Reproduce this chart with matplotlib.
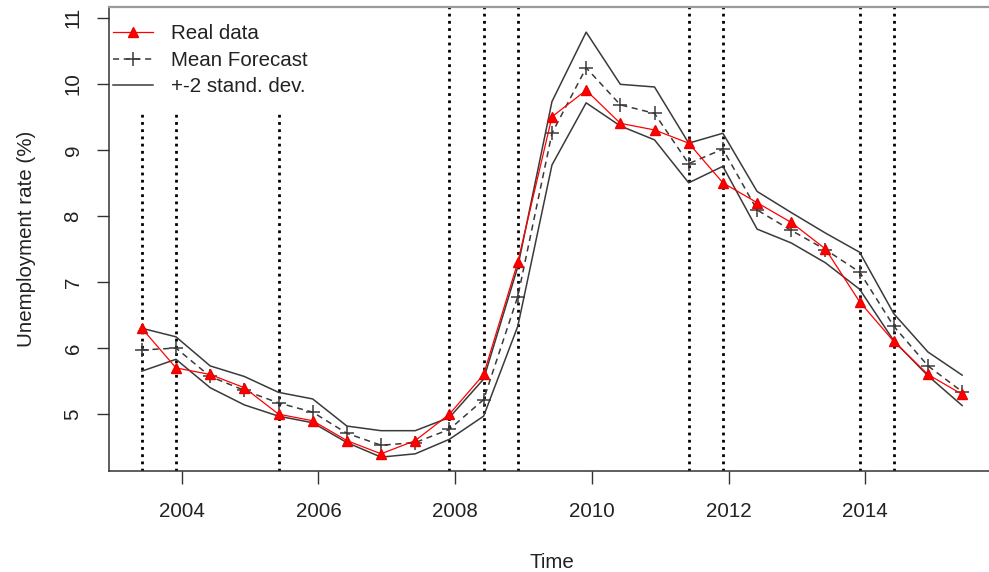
import matplotlib
matplotlib.use("Agg")
import matplotlib.pyplot as plt

# Semiannual observations (June / December)
periods = ["2003-06", "2003-12", "2004-06", "2004-12", "2005-06", "2005-12",
           "2006-06", "2006-12", "2007-06", "2007-12", "2008-06", "2008-12",
           "2009-06", "2009-12", "2010-06", "2010-12", "2011-06", "2011-12",
           "2012-06", "2012-12", "2013-06", "2013-12", "2014-06", "2014-12",
           "2015-06"]

real_data = [6.3, 5.7, 5.6, 5.4, 5.0, 4.9, 4.6, 4.4, 4.6, 5.0, 5.6, 7.3,
             9.5, 9.9, 9.4, 9.3, 9.1, 8.5, 8.2, 7.9, 7.5, 6.7, 6.1, 5.6, 5.3]

mean_forecast = [5.97, 6.00, 5.57, 5.36, 5.17, 5.03, 4.71, 4.53, 4.57, 4.77,
                 5.22, 6.78, 9.25, 10.24, 9.68, 9.55, 8.79, 9.01, 8.09, 7.78,
                 7.49, 7.15, 6.33, 5.73, 5.34]

upper_band = [6.30, 6.17, 5.73, 5.57, 5.33, 5.23, 4.82, 4.75, 4.75, 4.95,
              5.53, 7.23, 9.73, 10.78, 9.99, 9.95, 9.10, 9.25, 8.37, 8.05,
              7.74, 7.45, 6.52, 5.94, 5.59]

lower_band = [5.65, 5.83, 5.40, 5.14, 4.97, 4.87, 4.57, 4.35, 4.40, 4.62,
              4.97, 6.33, 8.77, 9.71, 9.36, 9.15, 8.50, 8.75, 7.80, 7.59,
              7.29, 6.89, 6.11, 5.58, 5.13]

# Dates marked with vertical dotted lines
marked_periods = ["2003-06", "2003-12", "2005-06", "2007-12", "2008-06",
                  "2008-12", "2011-06", "2011-12", "2013-12", "2014-06"]

x_ticks = [2004, 2006, 2008, 2010, 2012, 2014]
y_ticks = [5, 6, 7, 8, 9, 10, 11]


def to_year(p):
    y, m = p.split("-")
    return int(y) + (int(m) - 1) / 12.0


t = [to_year(p) for p in periods]
marks = [to_year(p) for p in marked_periods]

plt.rcParams["font.family"] = ["Liberation Sans", "DejaVu Sans"]
FS = 14.8
TXT = "#222222"

fig = plt.figure(figsize=(9.89, 5.72), dpi=100)
ax = fig.add_axes([109 / 989, 1 - 471 / 572, 886 / 989, 464 / 572])

for xm in marks:
    ax.axvline(xm, color="black", lw=2.0, ls=(0, (1.0, 1.6)), zorder=1)

band_col = "#3a3a3a"
ax.plot(t, upper_band, color=band_col, lw=1.1, zorder=2,
        label="+-2 stand. dev.")
ax.plot(t, lower_band, color=band_col, lw=1.1, zorder=2)
ax.plot(t, mean_forecast, color=band_col, lw=1.1, ls=(0, (4, 3)),
        marker="+", ms=9.5, mew=1.1, zorder=3, label="Mean Forecast")
ax.plot(t, real_data, color="#ff0000", lw=0.9, marker="^", ms=7.5,
        mec="#ee0000", zorder=4, label="Real data")

ax.set_xlim(2002.937, 2015.897)
ax.set_ylim(4.14, 11.16)
ax.set_xticks(x_ticks)
ax.set_yticks(y_ticks)
ax.set_xticklabels([str(v) for v in x_ticks], fontsize=FS, color=TXT)
ax.set_yticklabels([str(v) for v in y_ticks], fontsize=FS, color=TXT,
                   rotation=90, va="center")
ax.tick_params(axis="both", length=9, width=1.0, color="#333333")
ax.tick_params(axis="x", pad=13)
ax.tick_params(axis="y", pad=10)

ax.spines["right"].set_visible(False)
for side in ("left", "bottom"):
    ax.spines[side].set_color("#333333")
    ax.spines[side].set_linewidth(1.1)
ax.spines["top"].set_color("#9a9a9a")
ax.spines["top"].set_linewidth(1.6)

ax.set_xlabel("Time", fontsize=FS, color=TXT, labelpad=23)
ax.set_ylabel("Unemployment rate (%)", fontsize=FS, color=TXT, labelpad=20)

handles, labels = ax.get_legend_handles_labels()
order = [2, 1, 0]
leg = ax.legend([handles[i] for i in order], [labels[i] for i in order],
                loc="upper left", bbox_to_anchor=(-13 / 886, 1),
                borderaxespad=0,
                fontsize=FS, handlelength=1.9, handletextpad=0.9,
                labelspacing=0.36, borderpad=0.85, frameon=True,
                fancybox=False, facecolor="white", edgecolor="none",
                framealpha=1.0)
for txt in leg.get_texts():
    txt.set_color(TXT)
leg.set_zorder(10)

# keep the frame and the y ticks above the legend background
for sp in ax.spines.values():
    sp.set_zorder(11)
ax.yaxis.set_zorder(11)
ax.xaxis.set_zorder(11)

fig.savefig("out.png", dpi=100)
